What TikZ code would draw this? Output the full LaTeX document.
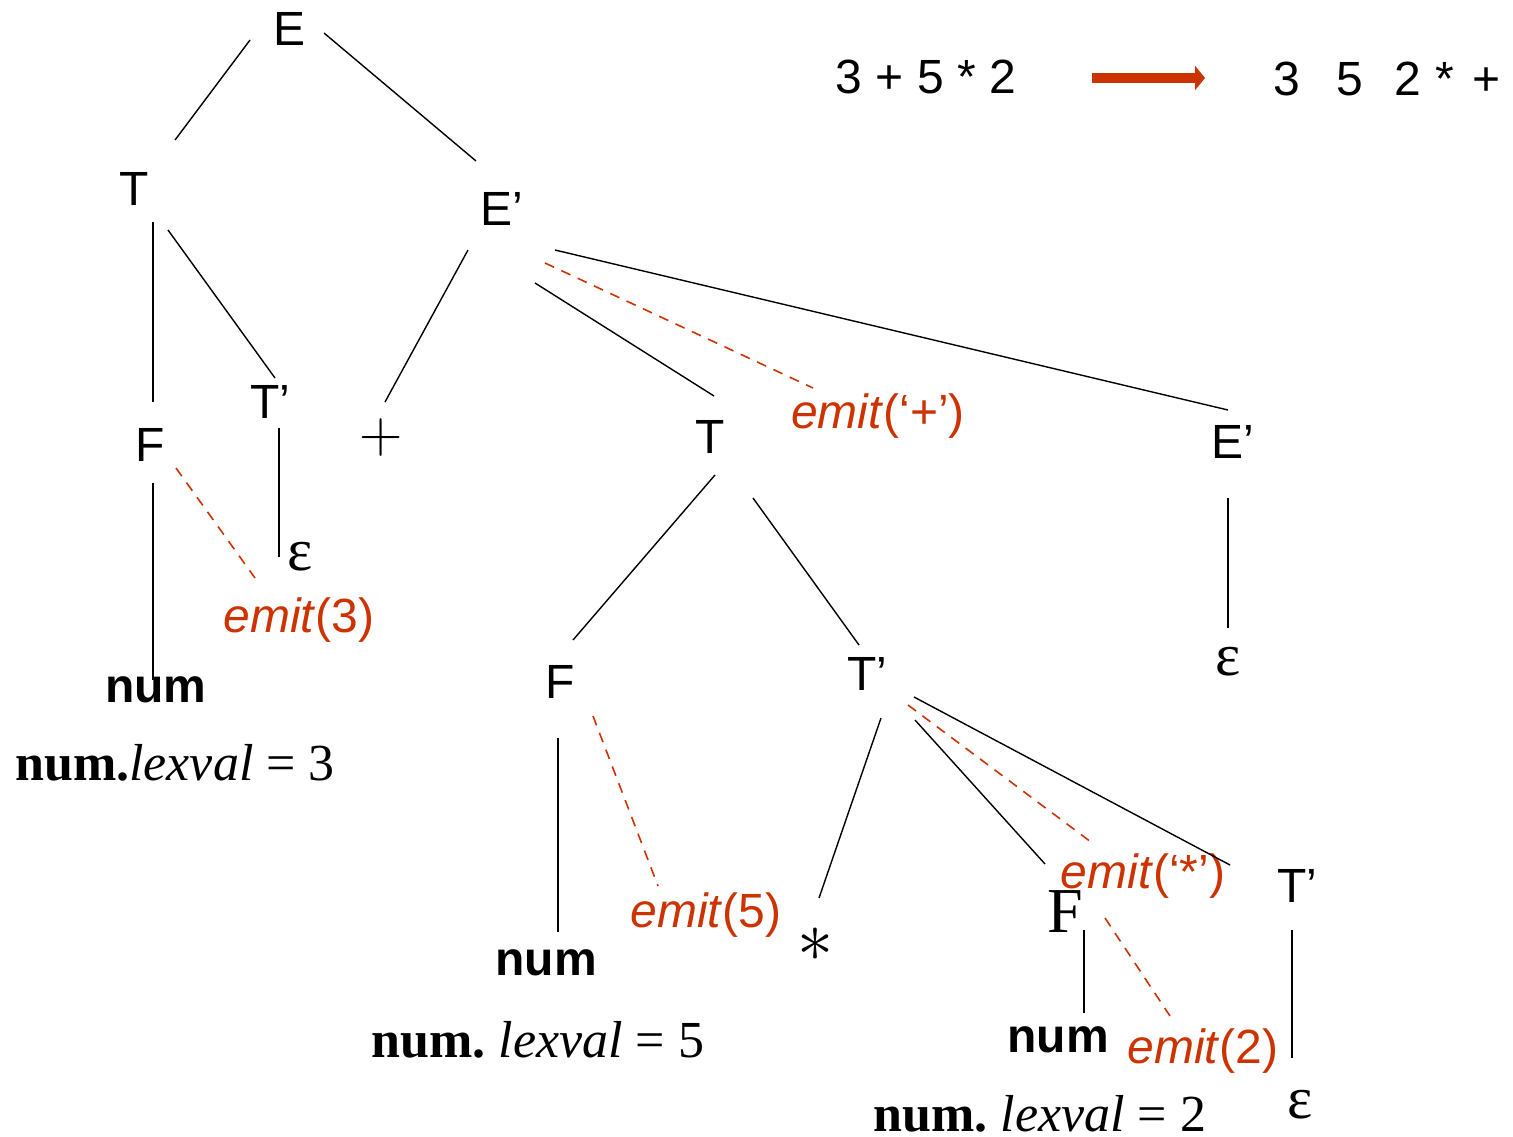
\RequirePackage{fix-cm}
\documentclass[tikz,border=0pt]{standalone}
\usepackage{fontspec}
\setmainfont{Liberation Sans}
\newfontfamily\serf{Liberation Serif}
\usetikzlibrary{calc,arrows.meta}
\definecolor{emitred}{RGB}{204,51,0}
\tikzset{
  lab/.style={font=\fontsize{24}{28}\selectfont, inner sep=0pt, anchor=base},
  emitlab/.style={lab, text=emitred},
  serlab/.style={font=\serf\fontsize{26}{30}\selectfont, inner sep=0pt, anchor=base},
  epslab/.style={font=\serf\fontsize{30}{34}\selectfont, inner sep=0pt, anchor=base},
  bigF/.style={font=\serf\fontsize{32}{36}\selectfont, inner sep=0pt, anchor=base},
  mathlab/.style={font=\fontsize{24}{28}\selectfont, inner sep=0pt, anchor=center},
  treeedge/.style={line width=0.7pt, black},
  actedge/.style={line width=0.8pt, emitred, dash pattern=on 5pt off 4pt},
}
\begin{document}
\begin{tikzpicture}[x=0.5pt, y=-0.5pt]
\useasboundingbox (0,0) rectangle (1513,1136);
% nodes
\node[lab] (E) at (290,45) {E};
\node[lab] (T1) at (134,205) {T};
\node[lab] (Ep1) at (502,225) {E’};
\node[lab] (F1) at (150,461) {F};
\node[lab] (Tp1) at (270,418) {T’};
\node[mathlab, scale=1.25] (plus) at (381,437) {$+$};
\node[lab] (T2) at (710,453) {T};
\node[emitlab] (em1) at (878,428) {\textit{emit}(‘+’)};
\node[lab] (Ep2) at (1233,458) {E’};
\node[epslab] (eps1) at (300,570) {ε};
\node[emitlab] (em3) at (299,632) {\textit{emit}(3)};
\node[lab] (num1) at (156,702) {\textbf{num}};
\node[serlab] (lex3) at (175,780) {\textbf{num.}\textit{lexval} = 3};
\node[lab] (F2) at (560,698) {F};
\node[lab] (Tp2) at (867,690) {T’};
\node[epslab] (eps2) at (1228,675) {ε};
\node[emitlab] (em5) at (706,927) {\textit{emit}(5)};
\node[lab] (num2) at (546,975) {\textbf{num}};
\node[mathlab, scale=1.5] (ast) at (815,945) {$\ast$};
\node[serlab] (lex5) at (538,1057) {\textbf{num.}\ \textit{lexval} = 5};
\node[emitlab] (emst) at (1143,888) {\textit{emit}(‘*’)};
\node[bigF] (F3) at (1065,932) {F};
\node[lab] (Tp3) at (1297,902) {T’};
\node[lab] (num3) at (1058,1052) {\textbf{num}};
\node[emitlab] (em2) at (1203,1063) {\textit{emit}(2)};
\node[epslab] (eps3) at (1300,1118) {ε};
\node[serlab] (lex2) at (1040,1131) {\textbf{num.}\ \textit{lexval} = 2};
\node[lab] (in) at (926,93) {3 + 5 * 2};
\node[lab] (out) at (1387,95) {3\hspace{18pt}5\hspace{16pt}2\hspace{7pt}*\hspace{9pt}+};
% tree edges
\draw[treeedge] ($(E.base)+(-40,-5)$) -- ($(T1.base)+(41,-65)$);
\draw[treeedge] ($(E.base)+(34,-12)$) -- ($(Ep1.base)+(-26,-64)$);
\draw[treeedge] ($(T1.base)+(19,17)$) -- ($(F1.base)+(3,-59)$);
\draw[treeedge] ($(T1.base)+(34,25)$) -- ($(Tp1.base)+(5,-40)$);
\draw[treeedge] ($(Ep1.base)+(-34,25)$) -- ($(plus.center)+(4,-35)$);
\draw[treeedge] ($(Ep1.base)+(33,58)$) -- ($(T2.base)+(4,-57)$);
\draw[actedge] ($(Ep1.base)+(43,38)$) -- ($(em1.base)+(-65,-40)$);
\draw[treeedge] ($(Ep1.base)+(53,25)$) -- ($(Ep2.base)+(-5,-48)$);
\draw[treeedge] ($(F1.base)+(3,22)$) -- ($(num1.base)+(-3,-22)$);
\draw[actedge] ($(F1.base)+(26,7)$) -- ($(em3.base)+(-44,-54)$);
\draw[treeedge] ($(Tp1.base)+(9,10)$) -- ($(eps1.base)+(-21,-13)$);
\draw[treeedge] ($(T2.base)+(5,22)$) -- ($(F2.base)+(13,-58)$);
\draw[treeedge] ($(T2.base)+(43,45)$) -- ($(Tp2.base)+(-8,-45)$);
\draw[treeedge] ($(F2.base)+(-2,40)$) -- ($(num2.base)+(12,-43)$);
\draw[actedge] ($(F2.base)+(33,18)$) -- ($(em5.base)+(-48,-41)$);
\draw[treeedge] ($(Tp2.base)+(14,28)$) -- ($(ast.center)+(4,-47)$);
\draw[treeedge] ($(Tp2.base)+(48,30)$) -- ($(F3.base)+(-20,-68)$);
\draw[actedge] ($(Tp2.base)+(41,15)$) -- ($(emst.base)+(-48,-43)$);
\draw[treeedge] ($(Tp2.base)+(47,7)$) -- ($(Tp3.base)+(-67,-37)$);
\draw[treeedge] ($(Ep2.base)+(-5,40)$) -- ($(eps2.base)+(0,-47)$);
\draw[treeedge] ($(F3.base)+(19,-2)$) -- ($(num3.base)+(26,-39)$);
\draw[actedge] ($(F3.base)+(40,-14)$) -- ($(em2.base)+(-33,-47)$);
\draw[treeedge] ($(Tp3.base)+(-5,28)$) -- ($(eps3.base)+(-8,-60)$);
% translation arrow
\draw[emitred, line width=5pt, -{Triangle[length=5pt,width=12pt]}] ($(in.base)+(166,-15)$) -- ($(out.base)+(-182,-17)$);
\end{tikzpicture}
\end{document}
